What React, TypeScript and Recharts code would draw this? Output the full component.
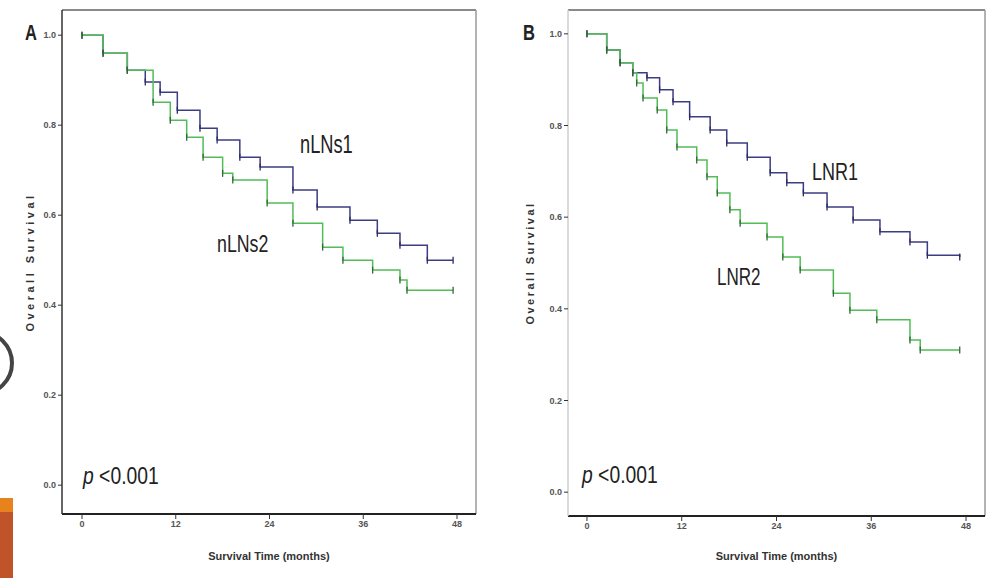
import React from 'react';
import { LineChart, Line, XAxis, YAxis, ReferenceLine } from 'recharts';

// ticks
const xTicks = [0, 12, 24, 36, 48];
const yTicks = [0, 0.2, 0.4, 0.6, 0.8, 1.0];

// panel A: number of lymph nodes
const nlns1Months = [0, 2.7, 5.8, 8.1, 10.0, 12.2, 15.1, 17.3, 20.2, 22.8, 27.0, 30.1, 34.3, 37.8, 40.7, 44.2, 47.5];
const nlns1Survival = [1.0, 0.96, 0.922, 0.896, 0.873, 0.833, 0.793, 0.767, 0.729, 0.707, 0.656, 0.618, 0.589, 0.56, 0.533, 0.5, 0.5];
const nlns2Months = [0, 2.7, 5.8, 9.1, 11.3, 13.4, 15.5, 18.0, 19.3, 23.7, 27.0, 30.8, 33.4, 37.2, 40.7, 41.6, 47.5];
const nlns2Survival = [1.0, 0.96, 0.922, 0.851, 0.811, 0.773, 0.729, 0.693, 0.678, 0.627, 0.582, 0.529, 0.5, 0.478, 0.456, 0.433, 0.433];

// panel B: lymph node ratio
const lnr1Months = [0, 2.5, 4.2, 5.8, 7.6, 9.2, 10.9, 13.0, 15.6, 17.7, 20.3, 23.2, 25.3, 27.4, 30.4, 33.7, 37.1, 40.9, 43.1, 47.2];
const lnr1Survival = [1.0, 0.965, 0.937, 0.915, 0.904, 0.878, 0.852, 0.819, 0.79, 0.762, 0.731, 0.697, 0.675, 0.653, 0.622, 0.594, 0.568, 0.546, 0.517, 0.513];
const lnr2Months = [0, 2.5, 4.2, 5.8, 6.3, 7.1, 8.9, 10.1, 11.4, 13.9, 15.2, 16.5, 18.1, 19.4, 22.8, 24.8, 27.0, 31.2, 33.3, 36.7, 40.9, 42.2, 47.2];
const lnr2Survival = [1.0, 0.965, 0.937, 0.915, 0.893, 0.86, 0.834, 0.79, 0.753, 0.725, 0.688, 0.653, 0.616, 0.587, 0.557, 0.513, 0.485, 0.434, 0.397, 0.376, 0.332, 0.31, 0.31];

const toRows = (months: number[], survival: number[]) =>
  months.map((month, i) => ({ month, survival: survival[i] }));

const BLUE = '#3c3d85';
const GREEN = '#52bd57';
const SANS = '"Liberation Sans", Arial, sans-serif';

const censorTick = (color: string) => (props: any) => {
  const { cx, cy, index } = props;
  if (cx == null || cy == null) return <g key={index} />;
  return <line key={index} x1={cx} x2={cx} y1={cy - 3.5} y2={cy + 3.5} stroke={color} strokeWidth={1.3} />;
};

const tickStyle = { fill: '#555', fontSize: 9, fontWeight: 700, fontFamily: SANS };

interface PanelProps {
  width: number;
  marginRight: number;
  yAxisWidth: number;
  xAxisHeight: number;
  xDomain: [number, number];
  yDomain: [number, number];
  leftAxisColor: string;
  labelSpacing: number;
  series: Array<{ rows: Array<{ month: number; survival: number }>; stroke: string; mark: string }>;
}

function SurvivalPanel(p: PanelProps) {
  return (
    <LineChart width={p.width} height={578} margin={{ top: 10, right: p.marginRight, bottom: 4, left: 0 }}>
      <XAxis
        dataKey="month"
        type="number"
        domain={p.xDomain}
        allowDataOverflow
        ticks={xTicks}
        height={p.xAxisHeight}
        tick={tickStyle}
        tickSize={5}
        axisLine={{ stroke: '#222', strokeWidth: 2 }}
        tickLine={{ stroke: '#333' }}
        label={{
          value: 'Survival Time (months)',
          position: 'insideBottom',
          offset: 14,
          style: { fill: '#333', fontSize: 11, fontWeight: 700, fontFamily: SANS }
        }}
      />
      <YAxis
        type="number"
        domain={p.yDomain}
        allowDataOverflow
        ticks={yTicks}
        width={p.yAxisWidth}
        tick={tickStyle}
        tickSize={4}
        tickFormatter={(v: number) => v.toFixed(1)}
        axisLine={{ stroke: p.leftAxisColor, strokeWidth: 1.5 }}
        tickLine={{ stroke: '#333' }}
        label={{
          value: 'Overall Survival',
          angle: -90,
          position: 'insideLeft',
          offset: 30,
          style: { textAnchor: 'middle', fill: '#333', fontSize: 11, fontWeight: 700, letterSpacing: p.labelSpacing, fontFamily: SANS }
        }}
      />
      {/* frame: top and right edges of the plot box */}
      <ReferenceLine y={p.yDomain[1]} stroke="#8a8a8a" strokeWidth={2} />
      <ReferenceLine x={p.xDomain[1]} stroke="#9a9a9a" strokeWidth={1.5} />
      {p.series.map((s, i) => (
        <Line
          key={i}
          data={s.rows}
          dataKey="survival"
          type="stepAfter"
          stroke={s.stroke}
          strokeWidth={1.5}
          dot={censorTick(s.mark)}
          activeDot={false}
          isAnimationActive={false}
        />
      ))}
    </LineChart>
  );
}

const note = (left: number, top: number, size: number, squeeze: number, bold = false): React.CSSProperties => ({
  position: 'absolute',
  left,
  top,
  fontSize: size,
  lineHeight: 1,
  fontFamily: SANS,
  fontWeight: bold ? 700 : 400,
  color: '#222',
  whiteSpace: 'nowrap',
  transform: `scaleX(${squeeze})`,
  transformOrigin: 'left top'
});

export default function App() {
  return (
    <div style={{ position: 'fixed', left: 0, top: 0, width: 991, height: 578, background: '#fff', overflow: 'hidden' }}>
      <div style={{ position: 'absolute', left: 0, top: 0 }}>
        <SurvivalPanel
          width={490}
          marginRight={14}
          yAxisWidth={62}
          xAxisHeight={60}
          xDomain={[-2.56, 50.43]}
          yDomain={[-0.064, 1.056]}
          leftAxisColor="#333"
          labelSpacing={3.5}
          series={[
            { rows: toRows(nlns1Months, nlns1Survival), stroke: BLUE, mark: '#2b2c5e' },
            { rows: toRows(nlns2Months, nlns2Survival), stroke: GREEN, mark: '#2f6a33' }
          ]}
        />
      </div>
      <div style={{ position: 'absolute', left: 500, top: 0 }}>
        <SurvivalPanel
          width={491}
          marginRight={6}
          yAxisWidth={68}
          xAxisHeight={58}
          xDomain={[-2.4, 50.4]}
          yDomain={[-0.052, 1.052]}
          leftAxisColor="#cfcfcf"
          labelSpacing={2.5}
          series={[
            { rows: toRows(lnr1Months, lnr1Survival), stroke: BLUE, mark: '#2b2c5e' },
            { rows: toRows(lnr2Months, lnr2Survival), stroke: GREEN, mark: '#2f6a33' }
          ]}
        />
      </div>

      <div style={note(25, 22, 22, 0.75, true)}>A</div>
      <div style={note(523, 22, 22, 0.75, true)}>B</div>
      <div style={note(300, 132, 25, 0.73)}>nLNs1</div>
      <div style={note(217, 232, 24, 0.74)}>nLNs2</div>
      <div style={note(812, 160, 24, 0.75)}>LNR1</div>
      <div style={note(717, 265, 24, 0.71)}>LNR2</div>
      <div style={note(83, 465, 23, 0.84)}><i>p</i> &lt;0.001</div>
      <div style={note(582, 464, 23, 0.84)}><i>p</i> &lt;0.001</div>

      {/* slide decorations at the left edge */}
      <div style={{ position: 'absolute', left: -52, top: 330, width: 58, height: 58, borderRadius: '50%', border: '4px solid #444' }} />
      <div style={{ position: 'absolute', left: 0, top: 498, width: 13, height: 14, background: '#e8821c' }} />
      <div style={{ position: 'absolute', left: 0, top: 512, width: 13, height: 66, background: '#c1532b' }} />
    </div>
  );
}
